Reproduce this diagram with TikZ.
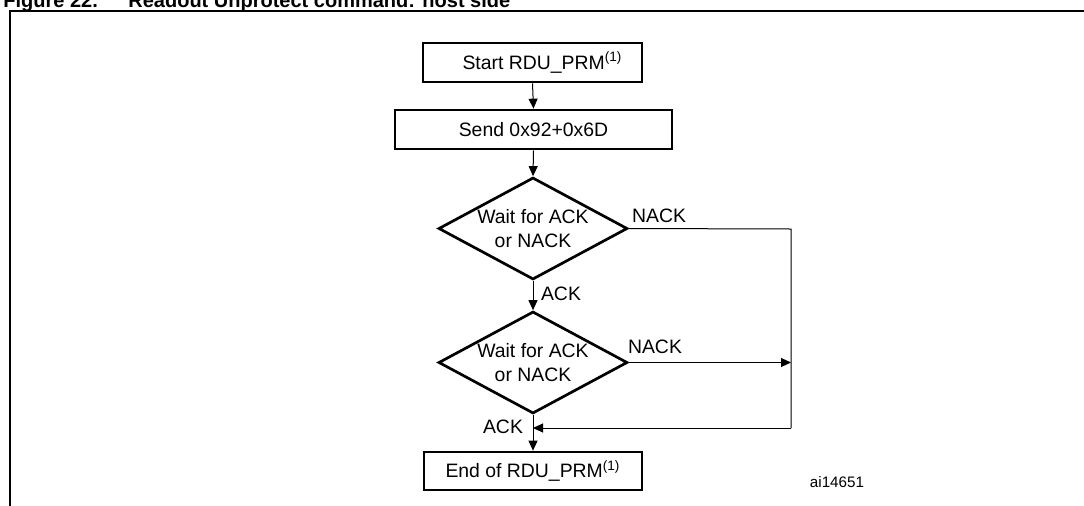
\documentclass[tikz,border=0pt]{standalone}
\usepackage{fontspec}
\setmainfont{Liberation Sans}
\usetikzlibrary{shapes.geometric,arrows.meta}
\begin{document}
\begin{tikzpicture}[x=0.5pt,y=-0.5pt,
  every node/.style={font=\fontsize{9.7pt}{12pt}\selectfont},
  box/.style={draw,line width=1.35pt,inner sep=0pt,minimum height=19.5pt},
  dia/.style={draw,diamond,line width=1.35pt,inner sep=0pt,align=center,
     minimum width=94.5pt,minimum height=51pt,aspect=1.85},
  conn/.style={line width=0.5pt},
  arr/.style={conn,-{Triangle[length=5pt,width=4.5pt]}},
  lbl/.style={inner sep=0pt},
  title/.style={font=\fontsize{10pt}{12pt}\selectfont\bfseries,inner sep=0pt,anchor=base west}]
\useasboundingbox (0,0) rectangle (1084,505);
\clip (0,0) rectangle (1084,505);
% title (cropped)
\node[title] (fig) at (3,7) {Figure 22.};
\node[title] (ttl) at (128,7) {Readout Unprotect command: host side};
% frame
\draw[line width=1pt] (10,506) -- (10,11) -- (1085,11);
% nodes
\node[box,minimum width=109.5pt] (start) at (532.5,62.5) {\hspace*{10pt}Start RDU\_PRM\textsuperscript{(1)}};
\node[box,minimum width=138.5pt] (send) at (533.5,129.5) {Send 0x92+0x6D};
\node[dia] (d1) at (533,228.5) {Wait for ACK\\or NACK};
\node[dia] (d2) at (533,362.5) {Wait for ACK\\or NACK};
\node[box,minimum width=109pt,minimum height=19pt] (end) at (533,471) {End of RDU\_PRM\textsuperscript{(1)}};
\coordinate (rt) at (791,229);
\coordinate (rb) at (791,428);
\coordinate (join) at (533,428);
% connectors
\draw[arr] (start.south) -- (send.north);
\draw[arr] (send.south) -- (d1.north);
\draw[arr] (d1.south) -- (d2.north);
\draw[arr] (d2.south) -- (end.north);
\draw[conn] (d1.east) -- (rt) -- (rb);
\draw[arr] (rb) -- (join);
\draw[arr] (d2.east) -- (d2.east -| rb);
% labels
\node[lbl] (n1) at (659,216) {NACK};
\node[lbl] (n2) at (655,347) {NACK};
\node[lbl] (a1) at (561,294) {ACK};
\node[lbl] (a2) at (503,427) {ACK};
\node[lbl,font=\fontsize{7.6pt}{9pt}\selectfont] (id) at (837,482) {ai14651};
\end{tikzpicture}
\end{document}
